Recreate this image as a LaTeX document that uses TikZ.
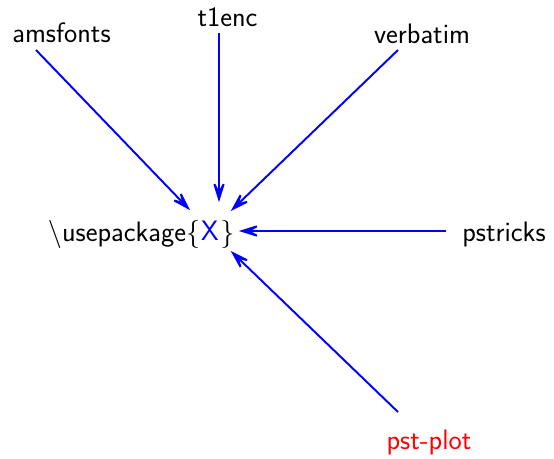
\documentclass[tikz,border=0pt]{standalone}
\usepackage{xcolor}
\usetikzlibrary{arrows.meta,calc}
\tikzset{
  pkg/.style ={font=\sffamily\fontsize{16}{19}\selectfont,inner sep=0pt},
  hub/.style ={pkg,circle,minimum size=11.4mm,text=blue},
  flow/.style={-{Stealth[length=5.4mm,width=3.4mm,inset=3.1mm]},blue,line width=1.1pt},
}

\begin{document}
\begin{tikzpicture}
  \useasboundingbox (0,0) rectangle (11.08,9.18);
  % the package line in the middle
  \node[hub] (X) at (4.20,4.56) {X};
  \node[pkg,anchor=base east] (use) at (4.01,4.34) {\textbackslash usepackage\{};
  \node[pkg,anchor=base west] (rb)  at (4.40,4.34) {\}};
  % packages pointing at it
  \node[pkg,anchor=base] (ams)  at (1.23,8.32) {amsfonts};
  \node[pkg,anchor=base] (t1)   at (4.55,8.64) {t1enc};
  \node[pkg,anchor=base] (verb) at (8.44,8.30) {verbatim};
  \node[pkg,anchor=base] (pst)  at (10.08,4.34) {pstricks};
  \node[pkg,anchor=base,text=red] (plot) at (8.58,0.18) {pst-plot};
  \coordinate (ams0)  at (0.72,8.18);
  \coordinate (t10)   at (4.38,8.52);
  \coordinate (verb0) at (7.96,8.18);
  \coordinate (pst0)  at (8.92,4.56);
  \coordinate (plot0) at (7.96,0.94);
  \draw[flow] (ams0) -- (X);
  \draw[flow] (t10) -- (t10 |- X.north);
  \draw[flow] (verb0) -- (X);
  \draw[flow] (pst0) -- (X);
  \draw[flow] (plot0) -- (X);
\end{tikzpicture}
\end{document}
